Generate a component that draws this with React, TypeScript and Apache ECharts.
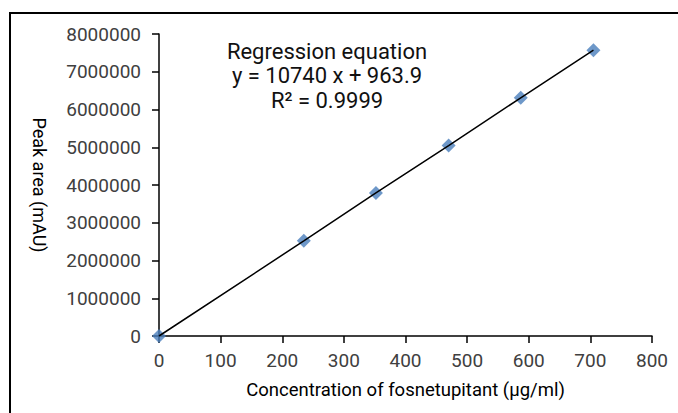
import React, { useEffect, useRef } from "react";
import * as echarts from "echarts";

const concentrations = [0, 235, 352, 470, 587, 705];
const peakAreas = [0, 2520000, 3790000, 5045000, 6310000, 7570000];
const equationLines = ["Regression equation", "y = 10740 x + 963.9", "R² = 0.9999"];

export default function App() {
  const ref = useRef<HTMLDivElement>(null);
  useEffect(() => {
    if (!ref.current) return;
    const chart = echarts.init(ref.current, null, { renderer: "svg" });
    const pts = concentrations.map((c, i) => [c, peakAreas[i]]);
    const font = "Roboto";
    chart.setOption({
      animation: false,
      backgroundColor: "#ffffff",
      textStyle: { fontFamily: font },
      grid: { left: 159, right: 26, top: 34, bottom: 77, containLabel: false },
      xAxis: {
        type: "value",
        min: 0,
        max: 800,
        interval: 100,
        name: "Concentration of fosnetupitant (μg/ml)",
        nameLocation: "middle",
        nameGap: 44,
        nameTextStyle: { color: "#000", fontSize: 18.5, fontFamily: font },
        axisLine: { show: true, lineStyle: { color: "#000", width: 1.5 } },
        axisTick: { show: true, length: 7, lineStyle: { color: "#000", width: 1.5 } },
        axisLabel: { color: "#404040", fontSize: 19, margin: 15, fontFamily: font, formatter: (v: number) => String(v) },
        splitLine: { show: false },
      },
      yAxis: {
        type: "value",
        min: 0,
        max: 8000000,
        interval: 1000000,
        name: "Peak area (mAU)",
        nameLocation: "middle",
        nameGap: 111,
        nameRotate: -90,
        nameTextStyle: { color: "#000", fontSize: 18, fontFamily: font },
        axisLine: { show: true, lineStyle: { color: "#000", width: 1.5 } },
        axisTick: { show: true, length: 7, lineStyle: { color: "#000", width: 1.5 } },
        axisLabel: { color: "#404040", fontSize: 19, margin: 18, fontFamily: font, formatter: (v: number) => String(v) },
        splitLine: { show: false },
      },
      graphic: [
        { type: "line", shape: { x1: 9.5, y1: 13, x2: 678, y2: 13 }, style: { stroke: "#000", lineWidth: 2 } },
        { type: "line", shape: { x1: 10, y1: 12, x2: 10, y2: 413 }, style: { stroke: "#000", lineWidth: 2 } },
        ...equationLines.map((t, i) => ({
          type: "text",
          x: 327,
          y: 51 + i * 24.7,
          style: {
            text: t,
            fontSize: 22,
            fontFamily: font,
            fill: "#111",
            align: "center",
            verticalAlign: "middle",
          },
        })),
      ],
      series: [
        {
          type: "scatter",
          data: pts,
          symbol: "diamond",
          symbolSize: 14,
          itemStyle: { color: "#4a7ebb" },
          z: 2,
        },
        {
          type: "line",
          data: pts,
          showSymbol: false,
          symbol: "none",
          lineStyle: { color: "#000", width: 1.5 },
          z: 3,
        },
      ],
    });
    return () => chart.dispose();
  }, []);
  return <div ref={ref} style={{ width: 678, height: 413, position: "absolute", left: 0, top: 0 }} />;
}
